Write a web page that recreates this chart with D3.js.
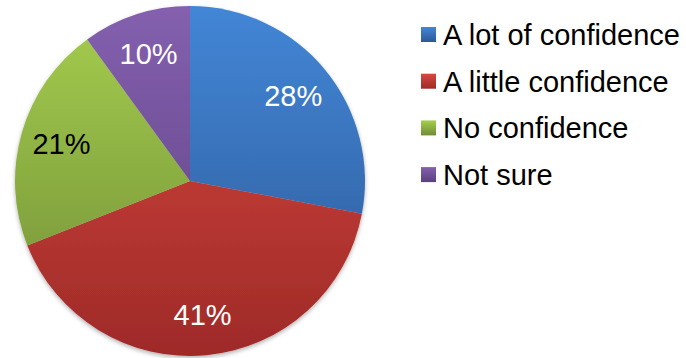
<!DOCTYPE html>
<html>
<head>
<meta charset="utf-8">
<script src="https://cdn.jsdelivr.net/npm/d3@7"></script>
<style>
  html, body { margin: 0; padding: 0; background: #fff; }
  svg { display: block; }
  text { font-family: "Liberation Sans", Arial, sans-serif; }
</style>
</head>
<body>
<svg id="chart" width="686" height="358"></svg>
<script>
// Survey answers and their shares (percent)
const categories = ["A lot of confidence", "A little confidence", "No confidence", "Not sure"];
const values = [28, 41, 21, 10];
const labelColors = ["#ffffff", "#ffffff", "#000000", "#ffffff"];
// Top and bottom shades of each slice's vertical gradient
const topColors = ["#4386D6", "#D9483F", "#A6CE4F", "#8460AF"];
const bottomColors = ["#2C5896", "#9E2A28", "#6F8C35", "#5B3F7E"];

const svg = d3.select("#chart");
const cx = 190, cy = 181, r = 175;

const defs = svg.append("defs");
const shadow = defs.append("filter").attr("id", "pieShadow")
  .attr("x", "-10%").attr("y", "-10%").attr("width", "120%").attr("height", "120%");
shadow.append("feDropShadow").attr("dx", 0).attr("dy", 2).attr("stdDeviation", 2)
  .attr("flood-color", "#000").attr("flood-opacity", 0.3);

// One gradient per slice spanning the whole pie (local coords centred on the pie)
categories.forEach((c, i) => {
  const g = defs.append("linearGradient").attr("id", "grad" + i)
    .attr("gradientUnits", "userSpaceOnUse")
    .attr("x1", 0).attr("y1", -r).attr("x2", 0).attr("y2", r);
  g.append("stop").attr("offset", "0%").attr("stop-color", topColors[i]);
  g.append("stop").attr("offset", "100%").attr("stop-color", bottomColors[i]);
  const lg = defs.append("linearGradient").attr("id", "lgrad" + i)
    .attr("x1", 0).attr("y1", 0).attr("x2", 0).attr("y2", 1);
  lg.append("stop").attr("offset", "0%").attr("stop-color", topColors[i]);
  lg.append("stop").attr("offset", "100%").attr("stop-color", bottomColors[i]);
});

const pie = d3.pie().sort(null).value(d => d)(values);
const arc = d3.arc().innerRadius(0).outerRadius(r);
const labelArc = d3.arc().innerRadius(r * 0.765).outerRadius(r * 0.765);

const g = svg.append("g").attr("transform", `translate(${cx},${cy})`);
g.append("g").attr("filter", "url(#pieShadow)")
  .selectAll("path").data(pie).join("path")
  .attr("d", arc)
  .attr("fill", (d, i) => `url(#grad${i})`);

g.selectAll("text.pct").data(pie).join("text")
  .attr("class", "pct")
  .attr("transform", d => `translate(${labelArc.centroid(d)})`)
  .attr("text-anchor", "middle")
  .attr("dy", "0.36em")
  .attr("font-size", 29)
  .attr("fill", (d, i) => labelColors[i])
  .text(d => d.data + "%");

const legend = svg.append("g").attr("transform", "translate(421,0)");
const rows = legend.selectAll("g").data(categories).join("g")
  .attr("transform", (d, i) => `translate(0,${45 + i * 46.7})`);
rows.append("rect").attr("x", 0).attr("y", -18).attr("width", 15).attr("height", 15)
  .attr("fill", (d, i) => `url(#lgrad${i})`);
rows.append("text").attr("x", 22).attr("y", 0)
  .attr("font-size", 29).attr("fill", "#000").text(d => d);
</script>
</body>
</html>
